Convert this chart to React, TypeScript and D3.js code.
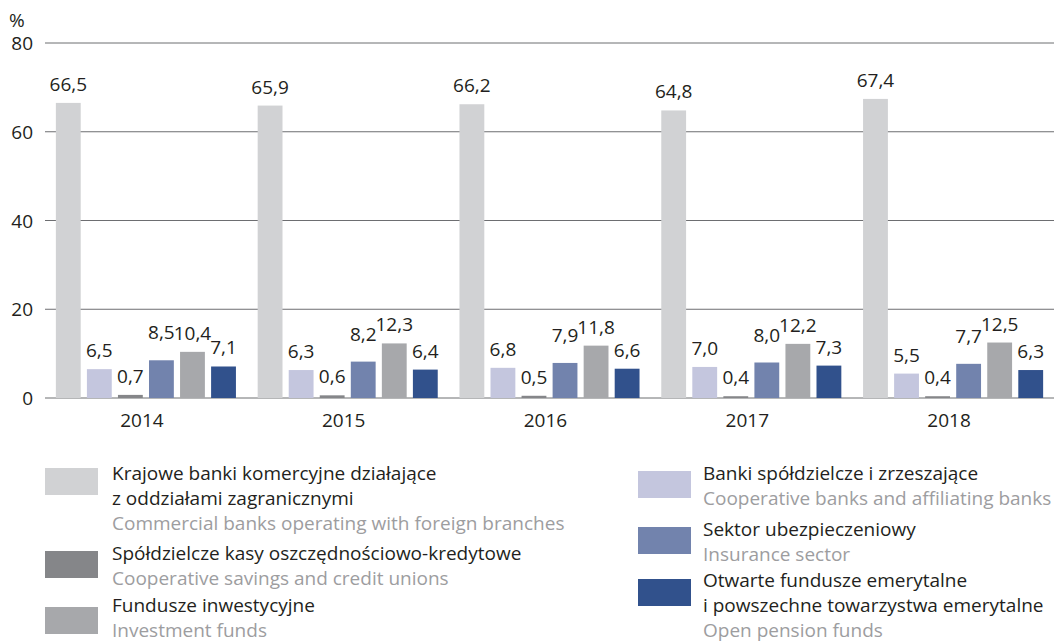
import * as d3 from "d3";

const years = ["2014", "2015", "2016", "2017", "2018"];

const seriesNames = [
  "Krajowe banki komercyjne",
  "Banki spółdzielcze",
  "SKOK",
  "Sektor ubezpieczeniowy",
  "Fundusze inwestycyjne",
  "OFE",
];

const krajowe = [66.5, 65.9, 66.2, 64.8, 67.4];
const bankiSpoldz = [6.5, 6.3, 6.8, 7.0, 5.5];
const skok = [0.7, 0.6, 0.5, 0.4, 0.4];
const ubezp = [8.5, 8.2, 7.9, 8.0, 7.7];
const fundusze = [10.4, 12.3, 11.8, 12.2, 12.5];
const ofe = [7.1, 6.4, 6.6, 7.3, 6.3];

const seriesValues = [krajowe, bankiSpoldz, skok, ubezp, fundusze, ofe];

const yTicks = [0, 20, 40, 60, 80];

const colors = ["#d1d2d4", "#c4c6de", "#858689", "#7283ad", "#a7a8ab", "#31518c"];
// extra lift of value labels per series (px), keeps 8,5 clear of 10,4
const labelLift = [0, 0, 0, 9, 0, 0];

const legendLeft = [
  { color: colors[0], pl: ["Krajowe banki komercyjne działające", "z oddziałami zagranicznymi"], en: "Commercial banks operating with foreign branches", sy: 468, ty: 480 },
  { color: colors[2], pl: ["Spółdzielcze kasy oszczędnościowo-kredytowe"], en: "Cooperative savings and credit unions", sy: 551, ty: 560 },
  { color: colors[4], pl: ["Fundusze inwestycyjne"], en: "Investment funds", sy: 607, ty: 612 },
];
const legendRight = [
  { color: colors[1], pl: ["Banki spółdzielcze i zrzeszające"], en: "Cooperative banks and affiliating banks", sy: 471, ty: 480 },
  { color: colors[3], pl: ["Sektor ubezpieczeniowy"], en: "Insurance sector", sy: 527, ty: 536 },
  { color: colors[5], pl: ["Otwarte fundusze emerytalne", "i powszechne towarzystwa emerytalne"], en: "Open pension funds", sy: 579, ty: 587 },
];

const fmt = (v: number) => v.toFixed(1).replace(".", ",");

export default function App() {
  const width = 1054;
  const height = 642;
  const left = 45;
  const right = 1054;
  const fs = 19;

  const x0 = d3.scaleBand().domain(years).range([left, right]).padding(0);
  const x1 = d3
    .scaleBand()
    .domain(seriesNames)
    .range([0, x0.bandwidth()])
    .paddingInner(0.2)
    .paddingOuter(0.35);
  const y = d3.scaleLinear().domain([0, 80]).range([398, 43]);

  const font = "'Open Sans', 'Noto Sans', sans-serif";

  const renderLegend = (items: typeof legendLeft, sx: number, tx: number) =>
    items.map((it, i) => (
      <g key={i}>
        <rect x={sx} y={it.sy} width={53} height={27} fill={it.color} />
        {it.pl.map((line, j) => (
          <text key={j} x={tx} y={it.ty + j * 25} fontSize={fs} fill="#231f20">
            {line}
          </text>
        ))}
        <text x={tx} y={it.ty + it.pl.length * 25} fontSize={fs} fill="#9d9d9f">
          {it.en}
        </text>
      </g>
    ));

  return (
    <svg
      width={width}
      height={height}
      style={{ position: "absolute", left: 0, top: 0, fontFamily: font }}
    >
      <rect width={width} height={height} fill="#fff" />
      <text x={9} y={27} fontSize={fs} fill="#231f20">%</text>
      {yTicks.map((t) => (
        <g key={t}>
          <line x1={left} x2={right} y1={y(t)} y2={y(t)} stroke="#6d6e71" strokeWidth={1} />
          <text x={33} y={y(t) + 7} fontSize={fs} textAnchor="end" fill="#231f20">
            {t}
          </text>
        </g>
      ))}
      {years.map((yr, yi) => (
        <g key={yr} transform={`translate(${x0(yr)},0)`}>
          {seriesNames.map((s, si) => {
            const v = seriesValues[si][yi];
            const bx = x1(s) as number;
            return (
              <g key={s}>
                <rect
                  x={bx}
                  y={y(v)}
                  width={x1.bandwidth()}
                  height={y(0) - y(v)}
                  fill={colors[si]}
                />
                <text
                  x={bx + x1.bandwidth() / 2}
                  y={y(v) - 12 - labelLift[si]}
                  fontSize={fs}
                  textAnchor="middle"
                  fill="#231f20"
                >
                  {fmt(v)}
                </text>
              </g>
            );
          })}
          <text
            x={x0.bandwidth() / 2 - 4}
            y={427}
            fontSize={fs}
            textAnchor="middle"
            fill="#231f20"
          >
            {yr}
          </text>
        </g>
      ))}
      {renderLegend(legendLeft, 45, 112)}
      {renderLegend(legendRight, 638, 703)}
    </svg>
  );
}
